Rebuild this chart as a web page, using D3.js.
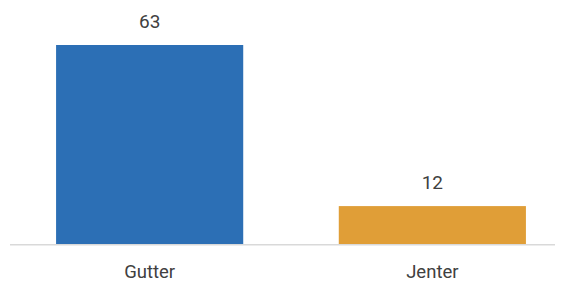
<!DOCTYPE html>
<html><head><meta charset="utf-8">
<script src="https://cdn.jsdelivr.net/npm/d3@7"></script>
<style>body{margin:0;background:#fff}svg{display:block}</style>
</head><body>
<script>
const categories = ["Gutter", "Jenter"];
const values = [63, 12];
const colors = ["#2c6fb5", "#e09e37"];

const W = 564, H = 283;
const svg = d3.select("body").append("svg").attr("width", W).attr("height", H);

const x = d3.scaleBand().domain(categories).range([10, 572]).paddingInner(0.338).paddingOuter(0.163);
const baseY = 244;
const y = d3.scaleLinear().domain([0, 63]).range([baseY, 45]);

svg.selectAll("rect.bar").data(categories).enter().append("rect")
  .attr("class", "bar")
  .attr("x", d => x(d))
  .attr("width", x.bandwidth())
  .attr("y", (d, i) => y(values[i]))
  .attr("height", (d, i) => baseY - y(values[i]))
  .attr("fill", (d, i) => colors[i]);

svg.append("line").attr("x1", 10).attr("x2", 555).attr("y1", 244.75).attr("y2", 244.75)
  .attr("stroke", "#d9d9d9").attr("stroke-width", 1.5);

svg.selectAll("text.val").data(categories).enter().append("text")
  .attr("class", "val")
  .attr("x", d => x(d) + x.bandwidth() / 2)
  .attr("y", (d, i) => y(values[i]) - 17)
  .attr("text-anchor", "middle")
  .attr("font-family", "Roboto, sans-serif").attr("font-size", 19).attr("fill", "#404040")
  .text((d, i) => values[i]);

svg.selectAll("text.cat").data(categories).enter().append("text")
  .attr("class", "cat")
  .attr("x", d => x(d) + x.bandwidth() / 2)
  .attr("y", 278)
  .attr("text-anchor", "middle")
  .attr("font-family", "Roboto, sans-serif").attr("font-size", 18.5).attr("fill", "#404040")
  .text(d => d);
</script>
</body></html>
